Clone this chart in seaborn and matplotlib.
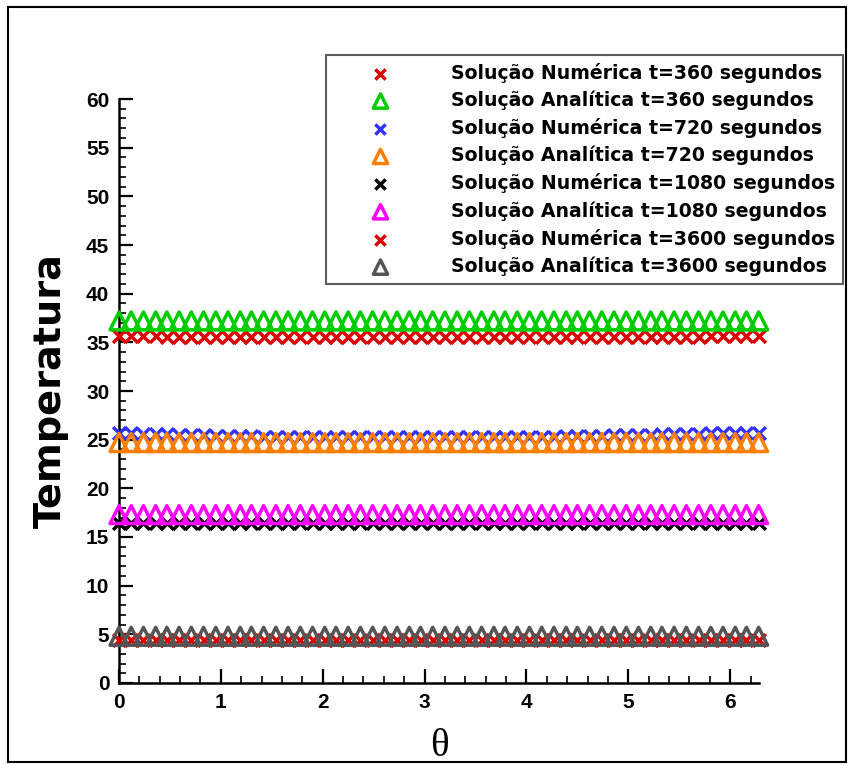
import numpy as np
import matplotlib
matplotlib.use("Agg")
import matplotlib.pyplot as plt
import seaborn as sns
import pandas as pd
from matplotlib.patches import Rectangle
from matplotlib.ticker import MultipleLocator

sns.set_theme(style="white")
plt.rcParams["font.family"] = ["Liberation Sans", "DejaVu Sans"]
plt.rcParams["text.color"] = "black"
plt.rcParams["axes.labelcolor"] = "black"
plt.rcParams["xtick.color"] = "black"
plt.rcParams["ytick.color"] = "black"

# ---- data ----
theta = [0.00, 0.12, 0.24, 0.36, 0.47, 0.59, 0.71, 0.83, 0.95,
         1.07, 1.19, 1.30, 1.42, 1.54, 1.66, 1.78, 1.90, 2.02,
         2.13, 2.25, 2.37, 2.49, 2.61, 2.73, 2.85, 2.96, 3.08,
         3.20, 3.32, 3.44, 3.56, 3.68, 3.79, 3.91, 4.03, 4.15,
         4.27, 4.39, 4.50, 4.62, 4.74, 4.86, 4.98, 5.10, 5.22,
         5.33, 5.45, 5.57, 5.69, 5.81, 5.93, 6.05, 6.16, 6.28]

num_360 = [35.6, 35.6, 35.6, 35.6, 35.5, 35.5, 35.5, 35.5, 35.5,
           35.5, 35.5, 35.5, 35.5, 35.5, 35.5, 35.5, 35.5, 35.5,
           35.5, 35.5, 35.5, 35.5, 35.5, 35.5, 35.5, 35.5, 35.5,
           35.5, 35.5, 35.5, 35.5, 35.5, 35.5, 35.5, 35.5, 35.5,
           35.5, 35.5, 35.5, 35.5, 35.5, 35.5, 35.5, 35.5, 35.5,
           35.5, 35.5, 35.5, 35.5, 35.6, 35.6, 35.6, 35.6, 35.6]
ana_360_value = 37.2

num_720 = [25.7, 25.7, 25.6, 25.6, 25.6, 25.5, 25.5, 25.5, 25.4,
           25.4, 25.4, 25.4, 25.3, 25.3, 25.3, 25.3, 25.3, 25.3,
           25.3, 25.3, 25.3, 25.3, 25.3, 25.3, 25.3, 25.3, 25.3,
           25.3, 25.3, 25.3, 25.3, 25.3, 25.3, 25.3, 25.3, 25.3,
           25.3, 25.4, 25.4, 25.4, 25.4, 25.5, 25.5, 25.5, 25.5,
           25.6, 25.6, 25.6, 25.6, 25.7, 25.7, 25.7, 25.7, 25.7]
ana_720_value = 24.7

num_1080 = [16.4] * len(theta)
ana_1080_value = 17.3

num_3600 = [4.4] * len(theta)
ana_3600_value = 4.8

labels = ["Solução Numérica t=360 segundos",
          "Solução Analítica t=360 segundos",
          "Solução Numérica t=720 segundos",
          "Solução Analítica t=720 segundos",
          "Solução Numérica t=1080 segundos",
          "Solução Analítica t=1080 segundos",
          "Solução Numérica t=3600 segundos",
          "Solução Analítica t=3600 segundos"]

series = [num_360, [ana_360_value] * len(theta),
          num_720, [ana_720_value] * len(theta),
          num_1080, [ana_1080_value] * len(theta),
          num_3600, [ana_3600_value] * len(theta)]

colors = ["#dd0000", "#00cc00", "#3333ff", "#ff8000",
          "#000000", "#ff00ff", "#dd0000", "#555555"]
kinds = ["x", "^", "x", "^", "x", "^", "x", "^"]

# ---- figure ----
W, H = 853, 765
fig = plt.figure(figsize=(W / 100, H / 100), dpi=100)
fig.patch.set_facecolor("white")
ax = fig.add_axes([119 / W, 1 - 683 / H, (759 - 119) / W, (683 - 99) / H])
ax.set_facecolor("white")

for lab, vals, col, mk in zip(labels, series, colors, kinds):
    df = pd.DataFrame({"theta": theta, "T": vals})
    if mk == "^":
        sns.scatterplot(data=df, x="theta", y="T", ax=ax, marker="^", s=165,
                        facecolor="none", edgecolor=col, linewidth=2.5,
                        label=lab, legend=False, clip_on=False, zorder=3)
    else:
        sns.scatterplot(data=df, x="theta", y="T", ax=ax, marker="x", s=85,
                        color=col, linewidth=2.5, label=lab, legend=False,
                        clip_on=False, zorder=3)

ax.set_xlim(0, 6.2832)
ax.set_ylim(0, 60)
ax.xaxis.set_major_locator(MultipleLocator(1))
ax.xaxis.set_minor_locator(MultipleLocator(0.2))
ax.yaxis.set_major_locator(MultipleLocator(5))
ax.yaxis.set_minor_locator(MultipleLocator(1))

for side in ["top", "right"]:
    ax.spines[side].set_visible(False)
for side in ["left", "bottom"]:
    ax.spines[side].set_linewidth(1.8)
    ax.spines[side].set_color("black")

ax.tick_params(which="major", direction="in", length=10, width=1.6,
               labelsize=15, colors="black", pad=7,
               left=True, bottom=True)
ax.tick_params(which="minor", direction="in", length=5, width=1.2,
               left=True, bottom=True, colors="black")
for t in ax.get_xticklabels() + ax.get_yticklabels():
    t.set_fontweight("bold")

ax.set_xlabel("θ", family=["Liberation Serif", "DejaVu Serif"],
              fontsize=28, labelpad=12, color="black")
ax.set_ylabel("Temperatura", family=["DejaVu Sans"], fontsize=27.5,
              fontweight="bold", labelpad=12, color="black")

handles, labs = ax.get_legend_handles_labels()
leg = fig.legend(handles, labs, loc="upper right",
                 bbox_to_anchor=(843 / W, 1 - 55 / H),
                 bbox_transform=fig.transFigure, borderaxespad=0.0,
                 prop={"family": "DejaVu Sans", "weight": "bold", "size": 13.6},
                 frameon=True, fancybox=False, borderpad=0.4,
                 markerscale=0.8,
                 handlelength=5.0, handletextpad=1.25, labelspacing=0.42)
leg.get_frame().set_edgecolor("#333333")
leg.get_frame().set_linewidth(1.5)
for t in leg.get_texts():
    t.set_color("black")

fig.patches.append(Rectangle((8 / W, 1 - 762 / H), (846 - 8) / W, (762 - 7) / H,
                             transform=fig.transFigure, fill=False,
                             edgecolor="black", linewidth=1.5))

fig.savefig("out.png", dpi=100)
